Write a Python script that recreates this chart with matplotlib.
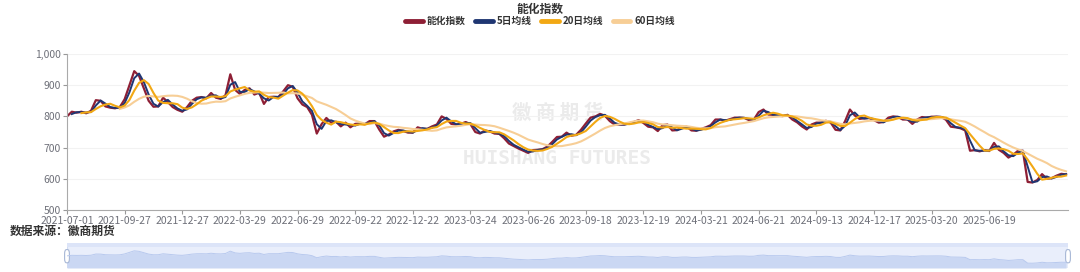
import numpy as np
import pandas as pd
import matplotlib
matplotlib.use('Agg')
import matplotlib.pyplot as plt
from matplotlib.ticker import FuncFormatter
from matplotlib.patches import FancyBboxPatch, Rectangle

plt.rcParams['font.family'] = ['Noto Sans CJK SC', 'DejaVu Sans']

# index read roughly once a week (every 5 trading days) from 2021-07-01
step = 5
n_days = 1043
index_vals = [
    800, 815, 812, 815, 810, 818, 852, 850, 832, 828,
    826, 830, 855, 900, 945, 930, 890, 850, 831, 832,
    860, 846, 830, 821, 815, 830, 850, 860, 862, 858,
    875, 860, 856, 868, 935, 885, 872, 885, 890, 870,
    876, 840, 862, 863, 862, 880, 900, 895, 858, 838,
    830, 805, 745, 775, 795, 780, 783, 768, 780, 765,
    776, 777, 775, 785, 785, 758, 735, 742, 752, 757,
    753, 748, 748, 765, 760, 760, 768, 774, 800, 792,
    776, 774, 776, 782, 775, 750, 745, 755, 752, 745,
    744, 730, 713, 705, 697, 690, 683, 692, 693, 695,
    703, 718, 734, 735, 748, 738, 741, 757, 777, 796,
    800, 808, 802, 785, 774, 774, 774, 778, 782, 788,
    779, 767, 765, 753, 772, 774, 755, 756, 765, 767,
    755, 754, 760, 765, 772, 790, 790, 786, 791, 796,
    796, 795, 788, 790, 814, 822, 806, 805, 802, 801,
    805, 790, 781, 768, 758, 774, 780, 780, 786, 780,
    757, 755, 785, 822, 803, 792, 794, 795, 788, 780,
    782, 796, 800, 798, 790, 790, 776, 790, 798, 796,
    799, 799, 798, 789, 767, 765, 762, 755, 690, 692,
    688, 692, 689, 715, 693, 683, 668, 677, 690, 690,
    590, 588, 596, 615, 600, 602, 610, 616, 614,
]
tick_labels = ['2021-07-01', '2021-09-27', '2021-12-27', '2022-03-29', '2022-06-29',
               '2022-09-22', '2022-12-22', '2023-03-24', '2023-06-26', '2023-09-18',
               '2023-12-19', '2024-03-21', '2024-06-21', '2024-09-13', '2024-12-17',
               '2025-03-20', '2025-06-19']
tick_every = 60

s = pd.Series(index_vals, dtype=float)
ma5 = s.rolling(2).mean()
ma20 = s.rolling(4).mean()
ma60 = s.rolling(12).mean()
x = np.arange(len(s)) * step

c_idx = '#8E1F35'
c5 = '#1F3672'
c20 = '#F2A814'
c60 = '#F7CE96'

fig = plt.figure(figsize=(10.8, 2.72), dpi=100)
ax = fig.add_axes([67/1080, 1-210/272, 1001/1080, 156/272])

ax.plot(x, s, color=c_idx, lw=1.6, label='能化指数')
ax.plot(x, ma5, color=c5, lw=1.4, label='5日均线')
ax.plot(x, ma60, color=c60, lw=1.5, label='60日均线', zorder=2)
ax.plot(x, ma20, color=c20, lw=1.5, label='20日均线', zorder=3)

ax.set_xlim(0, n_days - 1)
ax.set_ylim(500, 1000)
ax.set_yticks(np.arange(500, 1001, 100))
ax.yaxis.set_major_formatter(FuncFormatter(lambda v, p: f'{int(v):,}'))
ax.set_xticks(np.arange(len(tick_labels)) * tick_every)
ax.set_xticklabels(tick_labels)
ax.tick_params(axis='both', labelsize=7.5, colors='#999999', labelcolor='#6E7079', length=3, pad=1.5)
ax.grid(axis='y', color='#F2F2F2', lw=0.8)
for sp in ['top', 'right']:
    ax.spines[sp].set_visible(False)
for sp in ['left', 'bottom']:
    ax.spines[sp].set_color('#AAAAAA')
    ax.spines[sp].set_linewidth(0.8)

# watermark
ax.text(0.49, 0.62, '徽 商 期 货', transform=ax.transAxes, ha='center', va='center',
        fontsize=14, color='#EBEBEB', fontweight='bold', zorder=0)
ax.text(0.49, 0.33, 'HUISHANG FUTURES', transform=ax.transAxes, ha='center', va='center',
        fontsize=14, color='#EBEBEB', fontweight='bold', family='DejaVu Sans Mono', zorder=0)

fig.text(0.5, 1-9/272, '能化指数', ha='center', va='center', fontsize=8.5,
         fontweight='bold', color='#333333')
handles, labels = ax.get_legend_handles_labels()
order = [0, 1, 3, 2]
leg = fig.legend([handles[i] for i in order], [labels[i] for i in order],
                 loc='center', bbox_to_anchor=(0.5, 1-21/272), ncol=4, frameon=False,
                 fontsize=7, handlelength=1.8, columnspacing=1.0, handletextpad=0.4)
for h in leg.get_lines():
    h.set_linewidth(3.5)
    h.set_solid_capstyle('round')
for t in leg.get_texts():
    t.set_color('#333333')
    t.set_fontweight('bold')

fig.text(10/1080, 1-231/272, '数据来源：徽商期货', ha='left', va='center', fontsize=8.5,
         fontweight='bold', color='#333333')

# data zoom slider
ax2 = fig.add_axes([67/1080, 1-268/272, 1001/1080, 25/272])
ax2.set_xlim(0, n_days - 1)
ax2.set_ylim(450, 1170)
ax2.add_patch(Rectangle((0, 450), n_days - 1, 720, facecolor='#E9EEFB', edgecolor='#D3DCF2', lw=0.8))
ax2.fill_between(x, 450, s, color='#CAD7F3', lw=0)
ax2.plot(x, s, color='#B8C9EE', lw=0.7)
ax2.add_patch(Rectangle((0, 1050), n_days - 1, 120, facecolor='#DCE4F8', edgecolor='none'))
for hx in [0, n_days - 1]:
    ax2.add_patch(FancyBboxPatch((hx - 2.5, 600), 5, 380, boxstyle='round,pad=0,rounding_size=2',
                                 facecolor='white', edgecolor='#A7B7D6', lw=0.8, clip_on=False,
                                 mutation_aspect=60))
ax2.axis('off')

fig.savefig('out.png', dpi=100)
